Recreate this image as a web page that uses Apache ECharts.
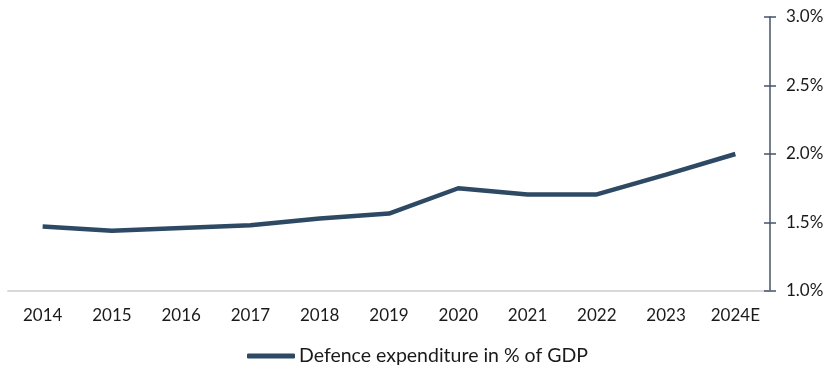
<!DOCTYPE html>
<html>
<head>
<meta charset="utf-8">
<script src="https://cdn.jsdelivr.net/npm/echarts@6/dist/echarts.min.js"></script>
<style>
  html, body { margin: 0; padding: 0; background: #fff; }
  #chart { width: 829px; height: 374px; }
</style>
</head>
<body>
<div id="chart"></div>
<script>
const years = ["2014", "2015", "2016", "2017", "2018", "2019", "2020", "2021", "2022", "2023", "2024E"];
const defenceShare = [1.47, 1.44, 1.46, 1.48, 1.53, 1.565, 1.75, 1.705, 1.705, 1.85, 2.0];
const seriesName = "Defence expenditure in % of GDP";

const font = "Lato, 'Noto Sans', sans-serif";
const lineColor = "#2e4963";
const axisColor = "#44546a";

const chart = echarts.init(document.getElementById("chart"));

// shared y scale, used twice so the ticks cross the axis line
const yBase = {
  type: "value",
  position: "right",
  min: 1.0,
  max: 3.0,
  interval: 0.5,
  splitLine: { show: false },
};

chart.setOption({
  animation: false,
  grid: { left: 8, right: 59, top: 17, bottom: 83 },
  legend: {
    bottom: 3,
    left: 242,
    itemWidth: 48,
    itemHeight: 5,
    itemGap: 5,
    icon: "roundRect",
    textStyle: { fontFamily: font, fontSize: 19.5, color: "#1a1a1a", padding: [0, 0, 0, -1] },
    data: [seriesName],
  },
  xAxis: {
    type: "category",
    data: years,
    boundaryGap: true,
    axisLine: { lineStyle: { color: "#d9d9d9", width: 2 } },
    axisTick: { show: false },
    axisLabel: { fontFamily: font, fontSize: 17, color: "#1a1a1a", margin: 16 },
  },
  yAxis: [
    Object.assign({}, yBase, {
      axisLine: { show: true, lineStyle: { color: axisColor, width: 1.5 } },
      axisTick: { show: true, length: 6, lineStyle: { color: axisColor, width: 1.5 } },
      axisLabel: {
        fontFamily: font,
        fontSize: 17,
        color: "#1a1a1a",
        margin: 16,
        formatter: (v) => v.toFixed(1) + "%",
      },
    }),
    Object.assign({}, yBase, {
      axisLine: { show: false },
      axisTick: { show: true, inside: true, length: 6, lineStyle: { color: axisColor, width: 1.5 } },
      axisLabel: { show: false },
    }),
  ],
  series: [
    {
      name: seriesName,
      type: "line",
      data: defenceShare,
      showSymbol: false,
      symbol: "none",
      lineStyle: { color: lineColor, width: 4.5 },
      itemStyle: { color: lineColor },
    },
  ],
});
</script>
</body>
</html>
